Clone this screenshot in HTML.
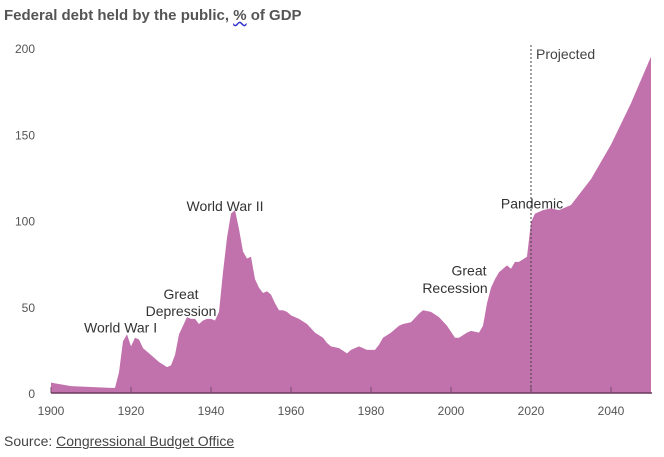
<!DOCTYPE html>
<html><head><meta charset="utf-8"><style>
body{margin:0;background:#fff;width:664px;height:457px;overflow:hidden;font-family:"Liberation Sans",sans-serif}
.t{position:absolute;left:4px;top:7px;font-weight:bold;font-size:15px;color:#555}
.s{position:absolute;left:4px;top:433px;font-size:14px;color:#444}
.s span{text-decoration:underline}
</style></head><body>
<div class="t">Federal debt held by the public, <span style="text-decoration:underline wavy #33c">%</span> of GDP</div>
<svg id="c" width="664" height="457" style="position:absolute;left:0;top:0"></svg>
<div class="s">Source: <span>Congressional Budget Office</span></div>
<script>
const years=[1900,1905,1910,1915,1916,1917,1918,1919,1920,1921,1922,1923,1925,1927,1929,1930,1931,1932,1933,1934,1935,1936,1937,1938,1939,1940,1941,1942,1943,1944,1945,1946,1947,1948,1949,1950,1951,1952,1953,1954,1955,1956,1957,1958,1959,1960,1962,1964,1966,1968,1969,1970,1972,1974,1975,1977,1979,1981,1982,1983,1985,1987,1988,1990,1992,1993,1995,1997,1999,2001,2002,2004,2005,2007,2008,2009,2010,2011,2012,2014,2015,2016,2017,2019,2020,2021,2023,2025,2027,2030,2035,2040,2045,2050];
const debt=[6,4,3.5,3,3,12,30,34,27,32,31,26,22,18,15,16,22,34,39,44,43,43,40,42,43,43,42,47,70,90,104,106,95,82,78,79,66,61,58,59,57,52,48,48,47,45,43,40,35,32,29,27,26,23,25,27,25,25,28,32,35,39,40,41,46,48,47,44,39,32,32,35,36,35,39,52,61,66,70,74,72,76,76,79,99,104,106,107,106,109,124,144,168,195];
const xTicks=[1900,1920,1940,1960,1980,2000,2020,2040];
const yTicks=[0,50,100,150,200];
const noteText=["World War I","Great","Depression","World War II","Great","Recession","Pandemic"];
const noteYear=[1908.25,1932.5,1932.5,1943.5,2004.5,2001,2020.25];
const noteVal=[35,54.5,44.6,105.5,68,58,107];
const noteAnchor=["start","middle","middle","middle","middle","middle","middle"];
const X=y=>51+(y-1900)*4, Y=v=>393-v*1.725;
const svg=document.getElementById('c'),NS='http://www.w3.org/2000/svg';
function mk(t,a,txt){const e=document.createElementNS(NS,t);for(const k in a)e.setAttribute(k,a[k]);if(txt!=null)e.textContent=txt;svg.appendChild(e);return e;}
let d='M'+X(years[0])+','+Y(0);
years.forEach((y,i)=>d+=' L'+X(y)+','+Y(debt[i]));
d+=' L'+X(years[years.length-1])+','+Y(0)+'Z';
const a=mk('path',{d:d,fill:'#c171ab'});


const ax=mk('line',{x1:51,x2:652,y1:393,y2:393,stroke:'#6a3a5e','stroke-width':1.5});


xTicks.forEach(t=>{
 const l=mk('line',{x1:X(t),x2:X(t),y1:387,y2:393,stroke:'#7a4a6e'});
 
 
 const tx=mk('text',{x:X(t),y:415,'text-anchor':'middle','font-size':12,fill:'#555'},t);
 
 
});
yTicks.forEach(t=>{
 const tx=mk('text',{x:35,y:Y(t)+5,'text-anchor':'end','font-size':12,fill:'#555'},t);
 
 
});
const pl=mk('line',{x1:X(2020),x2:X(2020),y1:45,y2:393,stroke:'#444','stroke-dasharray':'2,2'});


const pt=mk('text',{x:X(2020)+5,y:59,'font-size':14,fill:'#444'},'Projected');


noteText.forEach((n,i)=>{
 const tx=mk('text',{x:X(noteYear[i]),y:Y(noteVal[i]),'text-anchor':noteAnchor[i],'font-size':14,fill:'#333'},n);
 
 
});
</script>
</body></html>
